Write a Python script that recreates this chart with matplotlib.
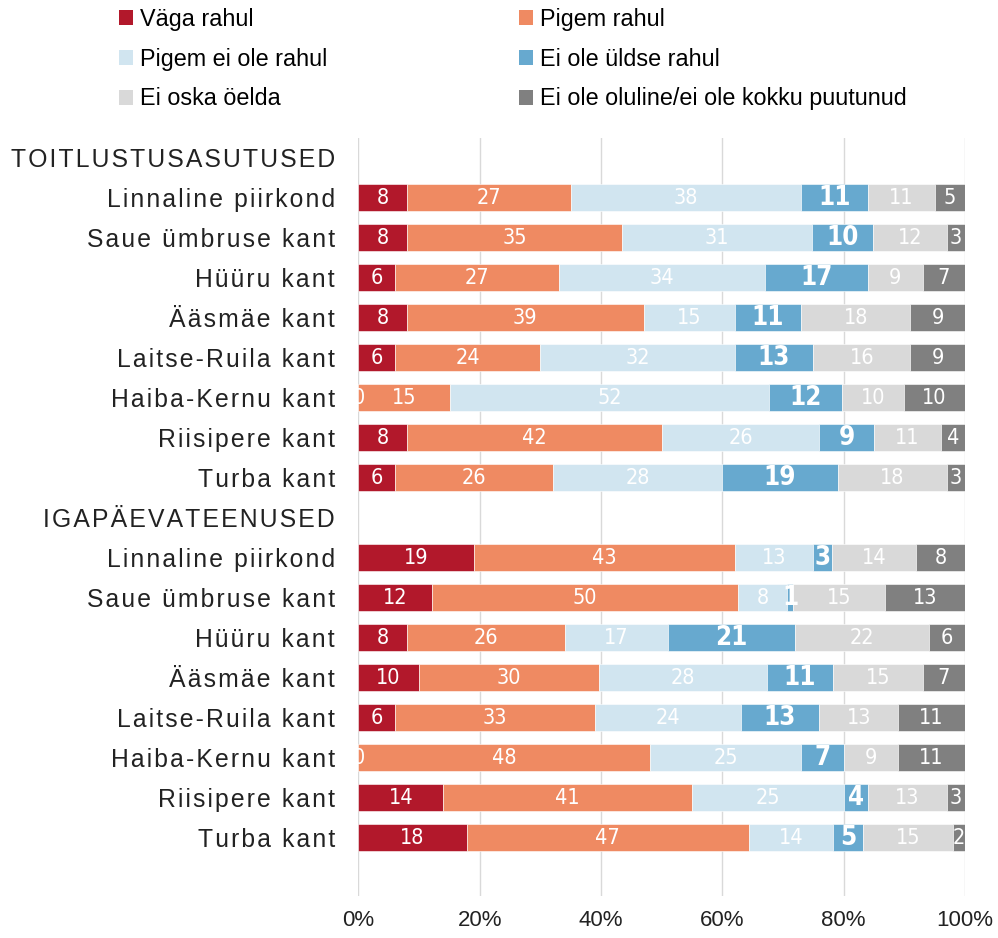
import numpy as np
import matplotlib.pyplot as plt
from matplotlib.patches import Patch

# categories (header rows have no bars)
rows = ["TOITLUSTUSASUTUSED",
        "Linnaline piirkond", "Saue ümbruse kant", "Hüüru kant", "Ääsmäe kant",
        "Laitse-Ruila kant", "Haiba-Kernu kant", "Riisipere kant", "Turba kant",
        "IGAPÄEVATEENUSED",
        "Linnaline piirkond", "Saue ümbruse kant", "Hüüru kant", "Ääsmäe kant",
        "Laitse-Ruila kant", "Haiba-Kernu kant", "Riisipere kant", "Turba kant"]
headers = [0, 9]

series = ["Väga rahul", "Pigem rahul", "Pigem ei ole rahul", "Ei ole üldse rahul",
          "Ei oska öelda", "Ei ole oluline/ei ole kokku puutunud"]
colors = ["#B2182B", "#EF8A62", "#D1E5F0", "#67A9CF", "#D9D9D9", "#808080"]

vaga = [8, 8, 6, 8, 6, 0, 8, 6, 19, 12, 8, 10, 6, 0, 14, 18]
pigem = [27, 35, 27, 39, 24, 15, 42, 26, 43, 50, 26, 30, 33, 48, 41, 47]
pigem_ei = [38, 31, 34, 15, 32, 52, 26, 28, 13, 8, 17, 28, 24, 25, 25, 14]
uldse = [11, 10, 17, 11, 13, 12, 9, 19, 3, 1, 21, 11, 13, 7, 4, 5]
ei_oska = [11, 12, 9, 18, 16, 10, 11, 18, 14, 15, 22, 15, 13, 9, 13, 15]
oluline = [5, 3, 7, 9, 9, 10, 4, 3, 8, 13, 6, 7, 11, 11, 3, 2]

data = np.array([vaga, pigem, pigem_ei, uldse, ei_oska, oluline], dtype=float)
pct = data / data.sum(axis=0) * 100
ypos = [i for i in range(len(rows)) if i not in headers]

txt_font = ['Liberation Sans', 'DejaVu Sans']
plt.rcParams['font.family'] = txt_font


def spaced(s):
    return '\u200a'.join(s)


fig = plt.figure(figsize=(9.98, 9.38), dpi=100)
ax = fig.add_axes([0.3592, 0.0448, 0.6077, 0.8086])

left = np.zeros(len(ypos))
for k in range(len(series)):
    ax.barh(ypos, pct[k], left=left, height=0.68, color=colors[k],
            edgecolor='white', linewidth=0.4, label=series[k], zorder=2)
    for y, l, w, v in zip(ypos, left, pct[k], data[k]):
        bold = (k == 3)
        ax.text(l + w / 2, y, "%d" % v, ha='center', va='center', color='white',
                fontsize=18.5 if bold else 15.5, fontweight='bold' if bold else 'normal',
                family='DejaVu Sans', fontstretch='condensed', zorder=3, clip_on=True)
    left += pct[k]

ax.set_xlim(0, 100)
ax.set_ylim(18.46, -0.5)
ax.set_xticks(np.arange(0, 101, 20))
ax.set_xticklabels(["%d%%" % t for t in range(0, 101, 20)], fontsize=16, color='#222222')
ax.set_yticks(range(len(rows)))
ax.set_yticklabels([spaced(r) for r in rows], fontsize=17.8, color='#222222')
ax.tick_params(axis='both', length=0)
ax.tick_params(axis='y', pad=17)
ax.tick_params(axis='x', pad=10)
ax.xaxis.grid(True, color='#D9D9D9', linewidth=1)
ax.set_axisbelow(True)
for s in ax.spines.values():
    s.set_visible(False)

handles = [Patch(facecolor=c, edgecolor='none') for c in colors]
order = [0, 2, 4, 1, 3, 5]
fig.legend([handles[i] for i in order], [series[i] for i in order], ncol=2,
           loc='upper left', bbox_to_anchor=(0.098, 1.014), frameon=False,
           fontsize=16.8, handlelength=0.6, handleheight=0.6, handletextpad=0.3,
           labelspacing=0.72, columnspacing=8.2)

fig.savefig("out.png", dpi=100)
